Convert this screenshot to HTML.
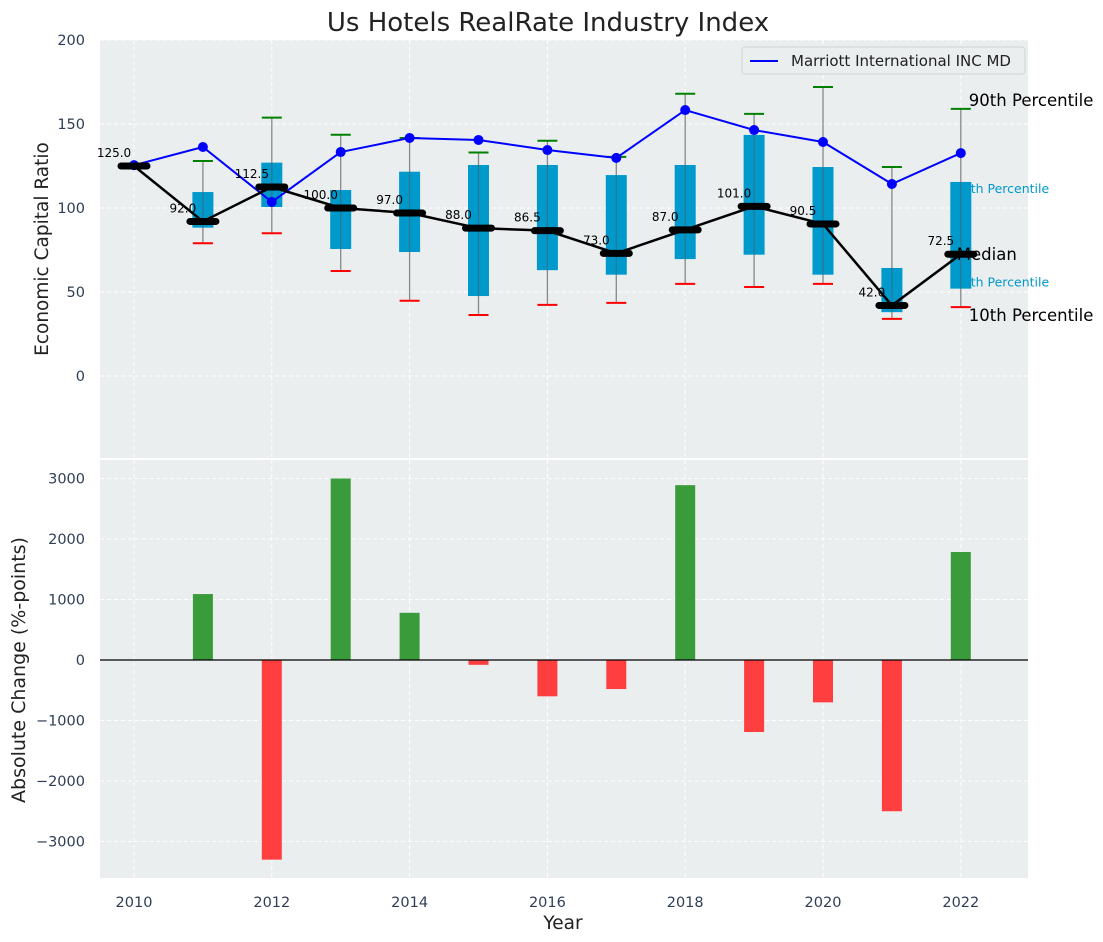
<!DOCTYPE html>
<html><head><meta charset="utf-8"><style>
body{margin:0;background:#fff;}
svg{display:block;font-family:"DejaVu Sans","Liberation Sans",sans-serif;}
</style></head><body>
<svg id="chart" width="1103" height="942">
<text x="548" y="31" text-anchor="middle" font-size="26" fill="#222">Us Hotels RealRate Industry Index</text>
<rect x="100" y="40" width="928" height="418" fill="#eaeeef"/>
<rect x="100" y="460" width="928" height="418" fill="#eaeeef"/>
<g id="top"></g><g id="bot"></g>
<text transform="translate(48,249) rotate(-90)" text-anchor="middle" font-size="18.5" fill="#222">Economic Capital Ratio</text>
<text transform="translate(25,670) rotate(-90)" text-anchor="middle" font-size="19" fill="#222">Absolute Change (%-points)</text>
<text x="563" y="929" text-anchor="middle" font-size="18.5" fill="#222">Year</text>
<g>
<rect x="742" y="47" width="283" height="27" rx="3" fill="#eaeeef" stroke="#d0d4d6"/>
<line x1="750" y1="61" x2="778" y2="61" stroke="#0000ff" stroke-width="2"/>
<text x="791" y="66" font-size="15" fill="#222">Marriott International INC MD</text>
</g>
</svg>
<script>
const years=[2010,2011,2012,2013,2014,2015,2016,2017,2018,2019,2020,2021,2022];
const marriott=[125.5,136.3,103.6,133.3,141.7,140.5,134.5,129.8,158.3,146.4,139.3,114.3,132.7];
const median=[125,92,112.5,100,97,88,86.5,73,87,101,90.5,42,72.5];
const p90=[null,128,153.8,143.6,141.7,133,140,130.4,168,156,172,124.4,159];
const p10=[null,79,85,62.5,44.8,36.3,42.3,43.5,54.8,53,54.8,34,41];
const q3=[null,109.5,127,110.7,121.6,125.6,125.6,119.6,125.6,143.5,124.4,64.3,115.5];
const q1=[null,88.3,100.6,75.6,73.8,47.6,63,60.3,69.6,72.2,60.3,38,52];
const change=[null,1090,-3300,3000,780,-80,-600,-480,2890,-1190,-700,-2500,1785];
const topTicks=[0,50,100,150,200];
const botTicks=[-3000,-2000,-1000,0,1000,2000,3000];
const xTicks=[2010,2012,2014,2016,2018,2020,2022];
const NS='http://www.w3.org/2000/svg';
const xs=y=>134+(y-2010)*68.9;
const yt=v=>376-1.68*v;
const yb=v=>660-0.0605*v;
function mk(p,t,a){const e=document.createElementNS(NS,t);for(const k in a)e.setAttribute(k,a[k]);p.appendChild(e);return e;}
const T=document.getElementById('top'),B=document.getElementById('bot');
xTicks.forEach(y=>{
 for(const [g,y1,y2] of [[T,40,458],[B,460,878]]){
  const l=mk(g,'line',{x1:xs(y),x2:xs(y),y1:y1,y2:y2,stroke:'#fff','stroke-dasharray':'4,3','stroke-width':1});
  
  
 }
 const t=mk(B,'text',{x:xs(y),y:907,'text-anchor':'middle','font-size':14.5,fill:'#2e3e55'});t.textContent=y;
 
 
});
topTicks.forEach(v=>{
 const l=mk(T,'line',{x1:100,x2:1028,y1:yt(v),y2:yt(v),stroke:'#fff','stroke-dasharray':'4,3'});
 
 
 const t=mk(T,'text',{x:85,y:yt(v)+5,'text-anchor':'end','font-size':14.5,fill:'#2e3e55'});t.textContent=v;
 
 
});
botTicks.forEach(v=>{
 const l=mk(B,'line',{x1:100,x2:1028,y1:yb(v),y2:yb(v),stroke:'#fff','stroke-dasharray':'4,3'});
 
 
 const t=mk(B,'text',{x:85,y:yb(v)+5,'text-anchor':'end','font-size':14.5,fill:'#2e3e55'});t.textContent=(v<0?'\u2212'+(-v):v);
 
 
});
const last=years.length-1,lx=xs(years[last]);
[['75th Percentile',yt(q3[last])+11],['25th Percentile',yt(q1[last])-2]].forEach(([s,y])=>{
 const t=mk(T,'text',{x:lx-6,y:y,'font-size':12.5,fill:'#0099cc'});t.textContent=s;
 
 
});
years.forEach((y,i)=>{
 if(p90[i]==null)return;
 const x=xs(y);
 let e=mk(T,'line',{x1:x,x2:x,y1:yt(p10[i]),y2:yt(p90[i]),stroke:'#888','stroke-width':1.3});
 
 
 e=mk(T,'rect',{x:x-10.5,y:yt(q3[i]),width:21,height:yt(q1[i])-yt(q3[i]),fill:'#0099cc'});
 
 
 mk(T,'line',{x1:x,x2:x,y1:yt(q3[i]),y2:yt(q1[i]),stroke:'#555','stroke-width':1,opacity:0.6});
 e=mk(T,'line',{x1:x-10,x2:x+10,y1:yt(p90[i]),y2:yt(p90[i]),stroke:'green','stroke-width':2});
 
 
 e=mk(T,'line',{x1:x-10,x2:x+10,y1:yt(p10[i]),y2:yt(p10[i]),stroke:'red','stroke-width':2});
 
 
});
let e=mk(T,'polyline',{points:years.map((y,i)=>xs(y)+','+yt(marriott[i])).join(' '),fill:'none',stroke:'#0000ff','stroke-width':2});


years.forEach((y,i)=>{const c=mk(T,'circle',{cx:xs(y),cy:yt(marriott[i]),r:5,fill:'#0000ff'});
 
 });
e=mk(T,'polyline',{points:years.map((y,i)=>xs(y)+','+yt(median[i])).join(' '),fill:'none',stroke:'#000','stroke-width':2.5});


years.forEach((y,i)=>{
 const x=xs(y),yy=yt(median[i]);
 const m=mk(T,'line',{x1:x-13,x2:x+13,y1:yy,y2:yy,stroke:'#000','stroke-width':7,'stroke-linecap':'round'});
 
 
 const t=mk(T,'text',{x:x-20,y:yy-9,'text-anchor':'middle','font-size':12,fill:'#000'});t.textContent=median[i].toFixed(1);
 
 
});
[['90th Percentile',yt(p90[last])-3,lx+8],['Median',yt(median[last])+6,lx-4],['10th Percentile',yt(p10[last])+14,lx+8]].forEach(([s,y,x])=>{
 const t=mk(T,'text',{x:x,y:y,'font-size':16.5,fill:'#000'});t.textContent=s;
 
 
});
years.forEach((y,i)=>{
 if(change[i]==null)return;
 const v=change[i],x=xs(y);
 const r=mk(B,'rect',{x:x-10,y:Math.min(yb(v),yb(0)),width:20,height:Math.abs(yb(v)-yb(0)),fill:v>=0?'#3a9b3a':'#ff3f3f'});
 
 
});
e=mk(B,'line',{x1:100,x2:1028,y1:yb(0),y2:yb(0),stroke:'#000','stroke-width':1.2});


</script>
</body></html>
